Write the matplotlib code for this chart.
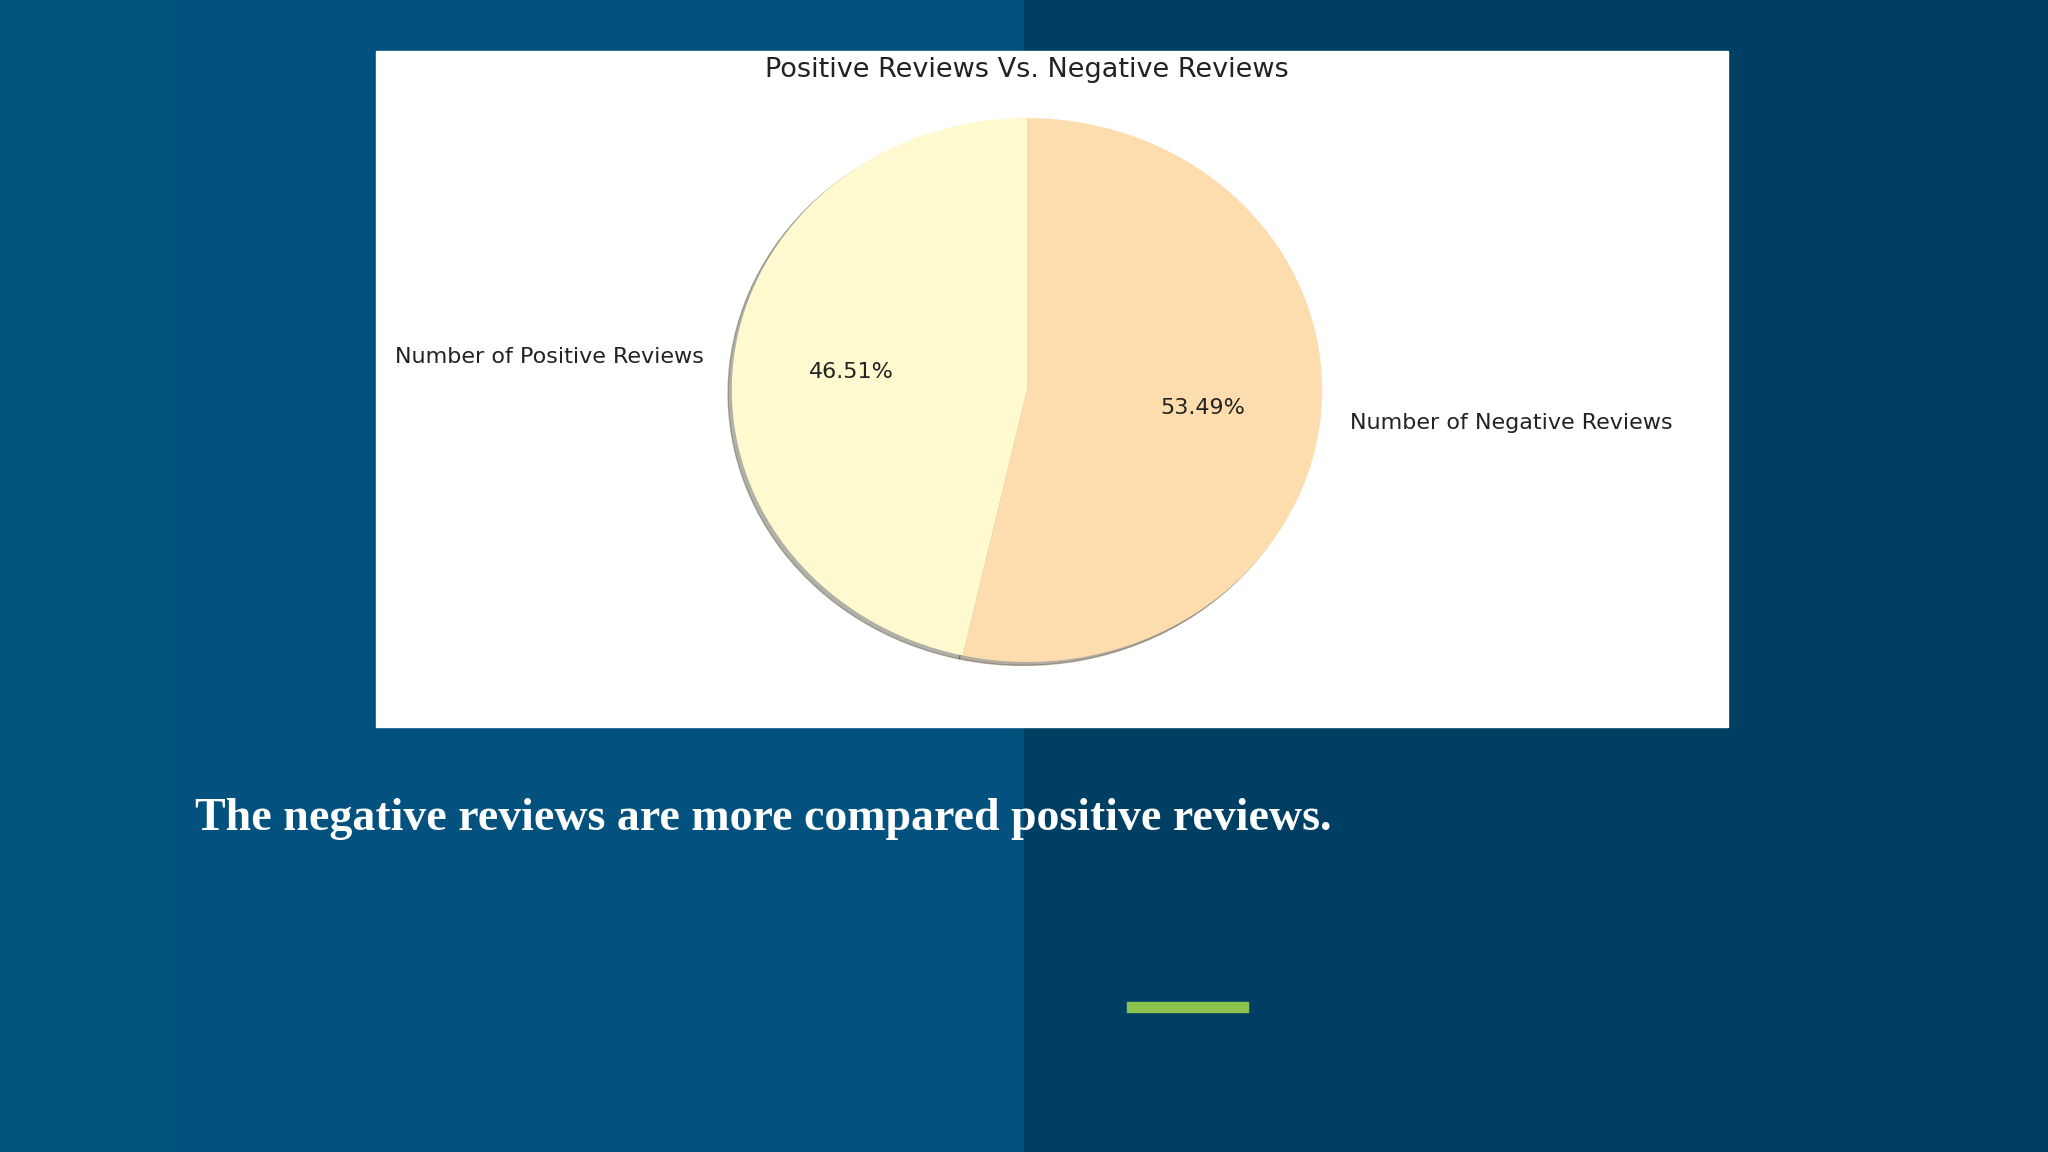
import matplotlib
matplotlib.use("Agg")
import matplotlib.pyplot as plt
from matplotlib.patches import Rectangle

W, H = 2048, 1152

labels = ["Number of Positive Reviews", "Number of Negative Reviews"]
shares = [46.51, 53.49]
colors = ["#FFF9D0", "#FDDDAD"]
title = "Positive Reviews Vs. Negative Reviews"
caption = "The negative reviews are more compared positive reviews."


def px_rect(x0, y0, x1, y1):
    # pixel box (top-left origin) -> figure fraction [l, b, w, h]
    return [x0 / W, 1 - y1 / H, (x1 - x0) / W, (y1 - y0) / H]


fig = plt.figure(figsize=(W / 100, H / 100), dpi=100)

# slide background: panels
bg = fig.add_axes([0, 0, 1, 1])
bg.set_xlim(0, W)
bg.set_ylim(H, 0)
bg.axis("off")
bg.add_patch(Rectangle((0, 0), 172, H, color="#01547B", zorder=0))
bg.add_patch(Rectangle((172, 0), 852, H, color="#02517F", zorder=0))
bg.add_patch(Rectangle((1024, 0), W - 1024, H, color="#003F64", zorder=0))
bg.add_patch(Rectangle((376, 51), 1352, 676, color="white", zorder=1))
bg.add_patch(Rectangle((1127, 1002), 121, 10, color="#8DC44E", zorder=1))
bg.text(195, 830, caption, color="white", fontsize=33, fontweight="bold",
        family="Liberation Serif", ha="left", va="baseline")
bg.text(1027, 70, title, color="#222222", fontsize=19.5, ha="center", va="center")

# pie, stretched a little wider than tall like the screenshot
ax = fig.add_axes(px_rect(658, 50, 1396, 730))
ax.pie(shares, labels=labels, colors=colors, autopct="%1.2f%%",
       startangle=90, shadow={"ox": -0.009, "oy": -0.009, "shade": 0.6},
       textprops={"fontsize": 16, "color": "#222222"})
ax.set_aspect("auto")
ax.set_xlim(-1.25, 1.25)
ax.set_ylim(-1.25, 1.25)

fig.savefig("out.png", dpi=100)
